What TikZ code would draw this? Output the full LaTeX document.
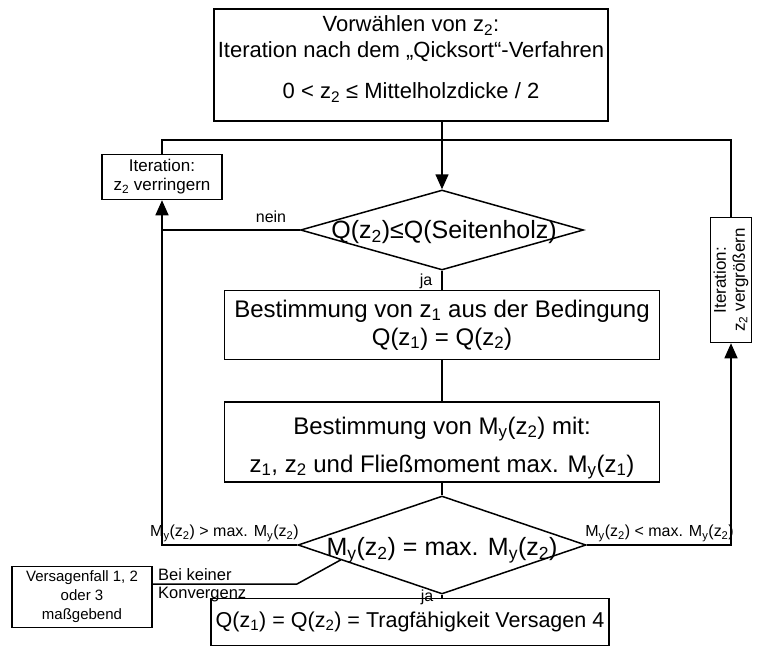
\documentclass[tikz,border=0pt]{standalone}
\usepackage{fontspec}
\setmainfont{Liberation Sans}
\usetikzlibrary{arrows.meta,shapes.geometric,calc}
\newcommand\sbs[1]{\textsubscript{#1}}
\begin{document}
\begin{tikzpicture}[x=1pt,y=-1pt,
  flow/.style={line width=1.5pt},
  arr/.style={flow,-{Triangle[length=15pt,width=13pt]}},
  frame/.style={draw,line width=1.5pt,inner sep=0pt,align=center},
  txt/.style={align=center,inner sep=0pt},
  box/.style={frame,font=\fontsize{24}{28}\selectfont},
  sbox/.style={frame,font=\fontsize{17}{19}\selectfont},
  decision/.style={draw,shape=diamond,line width=1.5pt,inner sep=0pt},
  dtext/.style={font=\fontsize{25}{28}\selectfont,inner sep=0pt},
  lab/.style={font=\fontsize{16}{18}\selectfont,inner sep=1pt,align=left}]
\useasboundingbox (0,0) rectangle (763,646);

% start box
\node[frame,minimum width=394pt,minimum height=112pt] (top) at (411,65) {};
\node[txt,font=\fontsize{22}{26}\selectfont] (topt) at (411,59)
  {Vorwählen von z\sbs{2}:\\Iteration nach dem „Qicksort“-Verfahren\\[15pt]
   0 < z\sbs{2} ≤ Mittelholzdicke / 2};

% iteration boxes
\node[sbox,minimum width=120pt,minimum height=45pt] (itL) at (162,177)
  {Iteration:\\z\sbs{2} verringern};
\node[sbox,rotate=90,minimum width=125pt,minimum height=41pt] (itR) at (731,280)
  {Iteration:\\z\sbs{2} vergrößern};

% first decision
\node[decision,minimum width=283pt,minimum height=80pt] (d1) at (442,230) {};
\node[dtext] (d1t) at (444,232) {Q(z\sbs{2})≤Q(Seitenholz)};

% computation steps
\node[box,minimum width=435pt,minimum height=69pt] (b2) at (442,325)
  {Bestimmung von z\sbs{1} aus der Bedingung\\Q(z\sbs{1}) = Q(z\sbs{2})};
\node[frame,minimum width=435pt,minimum height=80pt] (b3) at (442,442) {};
\node[txt,font=\fontsize{24}{28}\selectfont] (b3t) at (442,448)
  {Bestimmung von M\sbs{y}(z\sbs{2}) mit:\\[10pt]
   z\sbs{1}, z\sbs{2} und Fließmoment max. M\sbs{y}(z\sbs{1})};

% second decision and results
\node[decision,minimum width=288pt,minimum height=98pt] (d2) at (442,545) {};
\node[dtext] (d2t) at (442,550) {M\sbs{y}(z\sbs{2}) = max. M\sbs{y}(z\sbs{2})};
\node[frame,font=\fontsize{21.5}{25}\selectfont,minimum width=398pt,minimum height=47pt] (fin) at (410,622)
  {Q(z\sbs{1}) = Q(z\sbs{2}) = Tragfähigkeit Versagen 4};
\node[frame,font=\fontsize{15}{19}\selectfont,minimum width=140pt,minimum height=61pt] (vf) at (82,597)
  {Versagenfall 1, 2\\oder 3\\maßgebend};

% junction points
\coordinate (fbL) at (itL.north |- 0,140);
\coordinate (fbR) at (itR.east |- 0,140);
\coordinate (j1) at (d1.north |- 0,140);
\coordinate (nL) at (itL.south |- d1.west);
\coordinate (mL) at (itL.south |- d2.west);
\coordinate (mR) at (itR.west |- d2.east);
\coordinate (bk1) at ($(d2.west)!0.3!(d2.south)$);
\coordinate (knee) at (297,584);

% connectors
\draw[flow] (top.south -| j1) -- (j1);
\draw[flow] (itL.north) -- (fbL) -- (fbR) -- (itR.east);
\draw[arr] (j1) -- (d1.north);
\draw[flow] (d1.west) -- (nL);
\draw[arr] (d2.west) -- (mL) -- (itL.south);
\draw[arr] (d2.east) -- (mR) -- (itR.west);
\draw[flow] (d1.south) -- (b2.north);
\draw[flow] (b2.south) -- (b3.north);
\draw[flow] (b3.south) -- (d2.north);
\draw[flow] (d2.south) -- (fin.north -| d2.south);
\draw[flow] (bk1) -- (knee) -- (knee -| vf.east);

% labels
\node[lab] (lnein) at (271,217) {nein};
\node[lab] (lja1) at (426,281) {ja};
\node[lab] (lja2) at (427,597) {ja};
\node[lab,anchor=south west] (lgt) at (149,543) {M\sbs{y}(z\sbs{2}) > max. M\sbs{y}(z\sbs{2})};
\node[lab,anchor=south east] (llt) at (735,543) {M\sbs{y}(z\sbs{2}) < max. M\sbs{y}(z\sbs{2})};
\node[lab,anchor=west,font=\fontsize{16.5}{18}\selectfont] (lbk) at (157,585) {Bei keiner\\Konvergenz};
\end{tikzpicture}
\end{document}
